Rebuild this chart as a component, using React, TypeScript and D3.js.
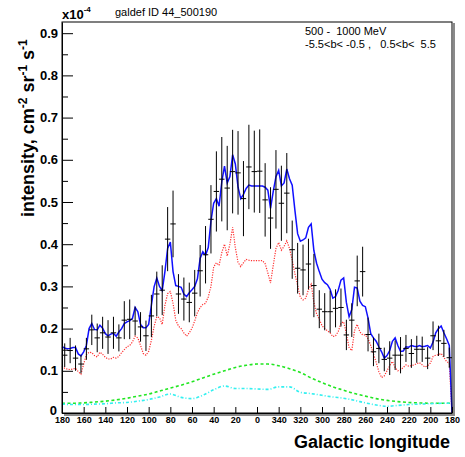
import { useEffect, useRef } from 'react';
import * as d3 from 'd3';

// longitude runs 180 -> 0 -> -180 (labels shown as 360+l for negative)
const xTicks = [180, 160, 140, 120, 100, 80, 60, 40, 20, 0, -20, -40, -60, -80, -100, -120, -140, -160, -180];
const yTicks = [0, 0.1, 0.2, 0.3, 0.4, 0.5, 0.6, 0.7, 0.8, 0.9];
const yMinorTicks = [0.05, 0.15, 0.25, 0.35, 0.45, 0.55, 0.65, 0.75, 0.85];

// model curves, 2.5 deg grid from l=180 down to l=-180 (units 1e-4)
const modelStep = 2.5;
const totalModel = [
  0.157, 0.154, 0.152, 0.153, 0.155, 0.155, 0.140, 0.135, 0.145, 0.160,
  0.200, 0.212, 0.198, 0.197, 0.208, 0.201, 0.188, 0.183, 0.187, 0.189,
  0.182, 0.192, 0.200, 0.212, 0.216, 0.219, 0.224, 0.250, 0.240, 0.210,
  0.202, 0.202, 0.210, 0.255, 0.299, 0.320, 0.300, 0.290, 0.335, 0.390,
  0.405, 0.335, 0.302, 0.300, 0.298, 0.282, 0.276, 0.285, 0.292, 0.300,
  0.318, 0.366, 0.382, 0.374, 0.392, 0.455, 0.497, 0.508, 0.490, 0.548,
  0.585, 0.545, 0.560, 0.612, 0.590, 0.535, 0.508, 0.518, 0.532, 0.540,
  0.538, 0.538, 0.538, 0.538, 0.538, 0.535, 0.528, 0.485, 0.525, 0.560,
  0.575, 0.538, 0.545, 0.578, 0.555, 0.540, 0.480, 0.425, 0.407, 0.410,
  0.415, 0.440, 0.448, 0.385, 0.355, 0.335, 0.317, 0.309, 0.304, 0.293,
  0.272, 0.276, 0.291, 0.315, 0.320, 0.262, 0.228, 0.245, 0.298, 0.296,
  0.265, 0.255, 0.252, 0.225, 0.188, 0.178, 0.170, 0.157, 0.145, 0.130,
  0.136, 0.148, 0.170, 0.178, 0.160, 0.146, 0.147, 0.157, 0.156, 0.160,
  0.158, 0.157, 0.160, 0.157, 0.158, 0.160, 0.154, 0.168, 0.190, 0.200,
  0.206, 0.190, 0.176, 0.160, 0,
];
const pionModel = [
  0.111, 0.106, 0.104, 0.103, 0.104, 0.106, 0.098, 0.092, 0.116, 0.138,
  0.144, 0.143, 0.136, 0.133, 0.144, 0.139, 0.132, 0.128, 0.128, 0.132,
  0.130, 0.134, 0.143, 0.150, 0.157, 0.160, 0.168, 0.182, 0.178, 0.160,
  0.141, 0.137, 0.146, 0.172, 0.205, 0.228, 0.226, 0.210, 0.255, 0.283,
  0.288, 0.260, 0.220, 0.206, 0.200, 0.190, 0.182, 0.190, 0.201, 0.218,
  0.238, 0.250, 0.257, 0.260, 0.275, 0.300, 0.346, 0.356, 0.350, 0.380,
  0.400, 0.372, 0.400, 0.440, 0.392, 0.357, 0.347, 0.356, 0.364, 0.362,
  0.361, 0.361, 0.361, 0.361, 0.361, 0.354, 0.332, 0.308, 0.350, 0.390,
  0.404, 0.386, 0.395, 0.408, 0.390, 0.362, 0.330, 0.302, 0.274, 0.268,
  0.272, 0.292, 0.305, 0.262, 0.235, 0.222, 0.207, 0.200, 0.195, 0.190,
  0.181, 0.183, 0.193, 0.213, 0.216, 0.188, 0.155, 0.148, 0.195, 0.210,
  0.192, 0.185, 0.185, 0.176, 0.160, 0.140, 0.120, 0.098, 0.084, 0.088,
  0.100, 0.112, 0.122, 0.108, 0.100, 0.102, 0.108, 0.114, 0.111, 0.112,
  0.114, 0.117, 0.119, 0.114, 0.109, 0.112, 0.118, 0.134, 0.137, 0.138,
  0.141, 0.132, 0.122, 0.118, 0,
];

// smooth components, 10 deg grid
const smoothStep = 10;
const icModel = [
  0.023, 0.023, 0.024, 0.026, 0.028, 0.031, 0.035, 0.040, 0.045, 0.052,
  0.059, 0.066, 0.074, 0.083, 0.092, 0.100, 0.108, 0.113, 0.116, 0.116,
  0.112, 0.105, 0.096, 0.083, 0.072, 0.062, 0.054, 0.046, 0.040, 0.034,
  0.030, 0.027, 0.025, 0.024, 0.023, 0.023, 0.023,
];
const bremssModel = [
  0.021, 0.020, 0.020, 0.021, 0.022, 0.024, 0.025, 0.028, 0.032, 0.038,
  0.045, 0.037, 0.034, 0.042, 0.055, 0.064, 0.058, 0.058, 0.057, 0.056,
  0.062, 0.062, 0.049, 0.046, 0.042, 0.038, 0.035, 0.030, 0.024, 0.019,
  0.016, 0.018, 0.020, 0.021, 0.022, 0.023, 0.023,
];

// EGRET data, 5 deg bins centred at 177.5, 172.5, ...
const binWidth = 5;
const dataValue = [
  0.137, 0.148, 0.130, 0.116, 0.152, 0.197, 0.178, 0.190, 0.180, 0.190,
  0.178, 0.220, 0.222, 0.218, 0.204, 0.183, 0.230, 0.282, 0.291, 0.412,
  0.448, 0.282, 0.270, 0.262, 0.284, 0.337, 0.375, 0.459, 0.525, 0.554,
  0.533, 0.572, 0.569, 0.508, 0.583, 0.572, 0.573, 0.505, 0.462, 0.530,
  0.497, 0.521, 0.387, 0.343, 0.339, 0.353, 0.302, 0.246, 0.240, 0.240,
  0.248, 0.250, 0.185, 0.220, 0.313, 0.335, 0.186, 0.145, 0.153, 0.127,
  0.130, 0.137, 0.137, 0.153, 0.141, 0.151, 0.151, 0.130, 0.183, 0.171,
  0.165, 0.131,
];
const dataError = [
  0.028, 0.030, 0.030, 0.022, 0.026, 0.036, 0.034, 0.038, 0.040, 0.038,
  0.032, 0.045, 0.047, 0.034, 0.035, 0.036, 0.050, 0.053, 0.059, 0.076,
  0.079, 0.047, 0.051, 0.047, 0.055, 0.061, 0.068, 0.081, 0.095, 0.100,
  0.100, 0.099, 0.099, 0.089, 0.100, 0.097, 0.099, 0.087, 0.073, 0.093,
  0.089, 0.095, 0.069, 0.060, 0.060, 0.060, 0.075, 0.045, 0.044, 0.050,
  0.045, 0.045, 0.036, 0.040, 0.060, 0.059, 0.040, 0.034, 0.035, 0.028,
  0.040, 0.035, 0.043, 0.032, 0.034, 0.032, 0.030, 0.026, 0.034, 0.036,
  0.032, 0.024,
];

const font = "'Liberation Sans', Arial, Helvetica, sans-serif";

const App = () => {
  const plotRef = useRef(null);

  useEffect(() => {
    if (!plotRef.current) return;
    const svg = d3.select(plotRef.current);
    svg.selectAll('*').remove();

    const left = 62, right = 452, top = 22, bottom = 413;

    const x = d3.scaleLinear().domain([180, -180]).range([left, right]);
    const y = d3.scaleLinear().domain([0, 0.9265]).range([bottom, top]);

    const toLine = (vals, step) => vals.map((v, i) => ({ l: 180 - i * step, v }));

    const line = d3.line()
      .x(d => x(d.l))
      .y(d => y(d.v));

    // Model curves
    svg.append('path')
      .datum(toLine(icModel, smoothStep))
      .attr('fill', 'none')
      .attr('stroke', '#22e622')
      .attr('stroke-width', 1.6)
      .attr('stroke-dasharray', '3,2.5')
      .attr('d', line.curve(d3.curveMonotoneX));

    svg.append('path')
      .datum(toLine(bremssModel, smoothStep))
      .attr('fill', 'none')
      .attr('stroke', '#33f0f0')
      .attr('stroke-width', 1.6)
      .attr('stroke-dasharray', '3,2,1,2')
      .attr('d', line.curve(d3.curveMonotoneX));

    svg.append('path')
      .datum(toLine(pionModel, modelStep))
      .attr('fill', 'none')
      .attr('stroke', '#ff3030')
      .attr('stroke-width', 1.2)
      .attr('stroke-dasharray', '1.2,1.3')
      .attr('d', line.curve(d3.curveLinear));

    svg.append('path')
      .datum(toLine(totalModel, modelStep))
      .attr('fill', 'none')
      .attr('stroke', '#1010ff')
      .attr('stroke-width', 1.5)
      .attr('d', line.curve(d3.curveLinear));

    // Data points with error bars
    const pts = dataValue.map((v, i) => ({ l: 180 - binWidth / 2 - i * binWidth, v, e: dataError[i] }));
    const g = svg.append('g').attr('stroke', '#000').attr('stroke-width', 1);
    g.selectAll('.ebar')
      .data(pts)
      .enter()
      .append('line')
      .attr('x1', d => x(d.l)).attr('x2', d => x(d.l))
      .attr('y1', d => y(d.v - d.e)).attr('y2', d => y(d.v + d.e));
    g.selectAll('.xbar')
      .data(pts)
      .enter()
      .append('line')
      .attr('x1', d => x(d.l + binWidth / 2)).attr('x2', d => x(d.l - binWidth / 2))
      .attr('y1', d => y(d.v)).attr('y2', d => y(d.v));

    // Frame and shadow
    svg.append('path')
      .attr('d', `M${right + 2},${top + 1}V${bottom + 2}H${left + 2}`)
      .attr('fill', 'none')
      .attr('stroke', '#8a8a8a')
      .attr('stroke-width', 2);
    svg.append('rect')
      .attr('x', left).attr('y', top)
      .attr('width', right - left).attr('height', bottom - top)
      .attr('fill', 'none')
      .attr('stroke', '#000')
      .attr('stroke-width', 1);

    // X axis
    const xAxis = svg.append('g')
      .attr('transform', `translate(0,${bottom})`)
      .call(d3.axisBottom(x)
        .tickValues(xTicks)
        .tickSize(-6)
        .tickSizeOuter(0)
        .tickPadding(4)
        .tickFormat(d => String(d < 0 ? d + 360 : d)));
    xAxis.select('.domain').attr('stroke', '#000');
    xAxis.selectAll('text')
      .attr('fill', '#000')
      .style('font-family', font)
      .style('font-weight', 'bold')
      .style('font-size', '9px');

    // Y axis
    const yAxis = svg.append('g')
      .attr('transform', `translate(${left},0)`)
      .call(d3.axisLeft(y)
        .tickValues(yTicks)
        .tickSize(-11)
        .tickSizeOuter(0)
        .tickPadding(4)
        .tickFormat(d => (d === 0 ? '0' : d3.format('.1f')(d))));
    yAxis.select('.domain').attr('stroke', '#000');
    yAxis.selectAll('text')
      .attr('fill', '#000')
      .style('font-family', font)
      .style('font-weight', 'bold')
      .style('font-size', '13px');
    // the "0" label sits just above the "180" of the x axis
    yAxis.selectAll('.tick text').filter(d => d === 0).attr('dy', '0.1em').attr('dx', '-1');

    svg.append('g')
      .attr('transform', `translate(${left},0)`)
      .call(d3.axisLeft(y).tickValues(yMinorTicks).tickSize(-6).tickSizeOuter(0).tickFormat(() => ''))
      .call(a => a.select('.domain').remove());
  }, []);

  return (
    <svg
      width={465}
      height={457}
      style={{ position: 'absolute', left: 0, top: 0, background: '#fff' }}
    >
      <g ref={plotRef} />
      <text x={62} y={19} fontFamily={font} fontWeight="bold" fontSize={13}>
        x10<tspan dy={-7} fontSize={8}>-4</tspan>
      </text>
      <text x={115} y={16} fontFamily={font} fontSize={11}>galdef ID 44_500190</text>
      <text x={305} y={35} fontFamily={font} fontSize={11} style={{ whiteSpace: 'pre' }}>
        {'500 -  1000 MeV'}
      </text>
      <text x={305} y={48} fontFamily={font} fontSize={11} style={{ whiteSpace: 'pre' }}>
        {'-5.5<b< -0.5 ,   0.5<b<  5.5'}
      </text>
      <text
        transform="translate(34,217) rotate(-90)"
        fontFamily={font}
        fontWeight="bold"
        fontSize={18}
      >
        intensity, cm<tspan dy={-7} fontSize={12}>-2</tspan>
        <tspan dy={7}> sr</tspan><tspan dy={-7} fontSize={12}>-1</tspan>
        <tspan dy={7}> s</tspan><tspan dy={-7} fontSize={12}>-1</tspan>
      </text>
      <text x={450} y={448} textAnchor="end" fontFamily={font} fontWeight="bold" fontSize={18}>
        Galactic longitude
      </text>
    </svg>
  );
};

export default App;
